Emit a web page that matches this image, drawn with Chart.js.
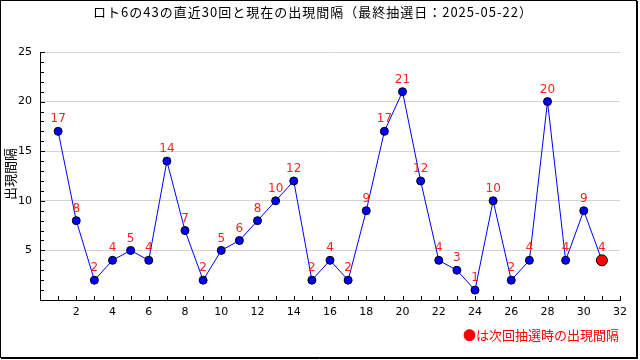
<!DOCTYPE html>
<html>
<head>
<meta charset="utf-8">
<script src="https://cdn.jsdelivr.net/npm/chart.js@4/dist/chart.umd.min.js"></script>
<style>
  body { margin: 0; background: #fff; }
  #wrap { width: 640px; height: 360px; position: relative; }
</style>
</head>
<body>
<div id="wrap"><canvas id="myIntervalChart" width="640" height="360"></canvas></div>
<script>
// 直近30回の出現間隔
const draws = [1, 2, 3, 4, 5, 6, 7, 8, 9, 10, 11, 12, 13, 14, 15, 16, 17, 18, 19, 20, 21, 22, 23, 24, 25, 26, 27, 28, 29, 30];
const intervals = [17, 8, 2, 4, 5, 4, 14, 7, 2, 5, 6, 8, 10, 12, 2, 4, 2, 9, 17, 21, 12, 4, 3, 1, 10, 2, 4, 20, 4, 9];
// 現在（次回抽選時）の出現間隔
const currentDraw = 31;
const currentInterval = 4;

const chartTitle = "ロト6の43の直近30回と現在の出現間隔（最終抽選日：2025-05-22）";
const yAxisTitle = "出現間隔";
const footNote = "●は次回抽選時の出現間隔";

const points = draws.map((d, i) => ({ x: d, y: intervals[i] }));
points.push({ x: currentDraw, y: currentInterval });

const pointColors = points.map((p, i) => (i === points.length - 1 ? "#ff0000" : "#0000ff"));
const pointSizes = points.map((p, i) => (i === points.length - 1 ? 5.5 : 4));

const jpFont = '"Noto Sans CJK JP", sans-serif';

// 目盛り（内向き）、ラベル、タイトル、枠線
const decorations = {
  id: "decorations",
  beforeDraw(chart) {
    const ctx = chart.ctx;
    ctx.save();
    ctx.fillStyle = "#fff";
    ctx.fillRect(0, 0, chart.width, chart.height);
    ctx.restore();
  },
  afterDatasetsDraw(chart) {
    const ctx = chart.ctx;
    const meta = chart.getDatasetMeta(0);
    ctx.save();
    ctx.fillStyle = "#ff2020";
    ctx.font = '12px "DejaVu Sans", sans-serif';
    ctx.textAlign = "center";
    ctx.textBaseline = "middle";
    meta.data.forEach((el, i) => {
      ctx.fillText(String(points[i].y), el.x, el.y - 12);
    });
    ctx.restore();
  },
  afterDraw(chart) {
    const ctx = chart.ctx;
    const xs = chart.scales.x;
    const ys = chart.scales.y;
    const area = chart.chartArea;
    ctx.save();
    ctx.strokeStyle = "#000";
    ctx.lineWidth = 1;
    ctx.beginPath();
    for (let v = 0; v <= 32; v++) {
      const px = Math.round(xs.getPixelForValue(v)) + 0.5;
      ctx.moveTo(px, area.bottom);
      ctx.lineTo(px, area.bottom - 4);
    }
    for (let v = 0; v <= 25; v++) {
      const py = Math.round(ys.getPixelForValue(v)) + 0.5;
      ctx.moveTo(area.left, py);
      ctx.lineTo(area.left + (v % 5 === 0 ? 5 : 4), py);
    }
    ctx.stroke();

    // title
    ctx.fillStyle = "#000";
    ctx.font = "13px " + jpFont;
    ctx.textAlign = "center";
    ctx.textBaseline = "middle";
    ctx.save();
    ctx.letterSpacing = "1px";
    ctx.fillText(chartTitle, 313, 12);
    ctx.restore();

    // y axis title
    ctx.save();
    ctx.translate(10, 174);
    ctx.rotate(-Math.PI / 2);
    ctx.fillText(yAxisTitle, 0, 0);
    ctx.restore();

    // foot note
    ctx.fillStyle = "#ff0000";
    ctx.textAlign = "right";
    ctx.fillText(footNote, 619, 335);

    // frame
    ctx.strokeStyle = "#000";
    ctx.strokeRect(0.5, 0.5, 636, 357);
    ctx.beginPath();
    ctx.moveTo(637.5, 1);
    ctx.lineTo(637.5, 359);
    ctx.moveTo(1, 358.5);
    ctx.lineTo(638, 358.5);
    ctx.stroke();
    ctx.restore();
  },
};

const intervalChart = document.getElementById("myIntervalChart");

new Chart(intervalChart, {
  type: "line",
  data: {
    datasets: [
      {
        label: yAxisTitle,
        data: points,
        borderColor: "#0000ff",
        borderWidth: 1,
        backgroundColor: "#0000ff",
        pointBackgroundColor: pointColors,
        pointBorderColor: "#000",
        pointBorderWidth: 1,
        pointRadius: pointSizes,
        tension: 0,
      },
    ],
  },
  options: {
    responsive: false,
    animation: false,
    layout: {
      padding: { top: 52, left: 0, right: 20, bottom: 0 },
    },
    scales: {
      x: {
        type: "linear",
        min: 0,
        max: 32,
        afterFit: (scale) => {
          scale.height = 60;
        },
        ticks: {
          stepSize: 2,
          padding: 6,
          color: "#000",
          font: { family: "DejaVu Sans", size: 11 },
          maxRotation: 0,
          callback: (v) => (v === 0 ? "" : v),
        },
        grid: { display: false, drawTicks: false },
        border: { color: "#000", width: 1 },
      },
      y: {
        min: 0,
        max: 25,
        afterFit: (scale) => {
          scale.width = 40;
        },
        ticks: {
          stepSize: 5,
          padding: 8,
          color: "#000",
          font: { family: "DejaVu Sans", size: 11 },
          callback: (v) => (v === 0 ? "" : v),
        },
        grid: {
          color: (c) => (c.tick && c.tick.value === 0 ? "rgba(0,0,0,0)" : "#d4d4d4"),
          drawTicks: false,
        },
        border: { color: "#000", width: 1 },
      },
    },
    plugins: {
      legend: { display: false },
      title: { display: false },
      tooltip: { enabled: false },
    },
  },
  plugins: [decorations],
});
</script>
</body>
</html>
